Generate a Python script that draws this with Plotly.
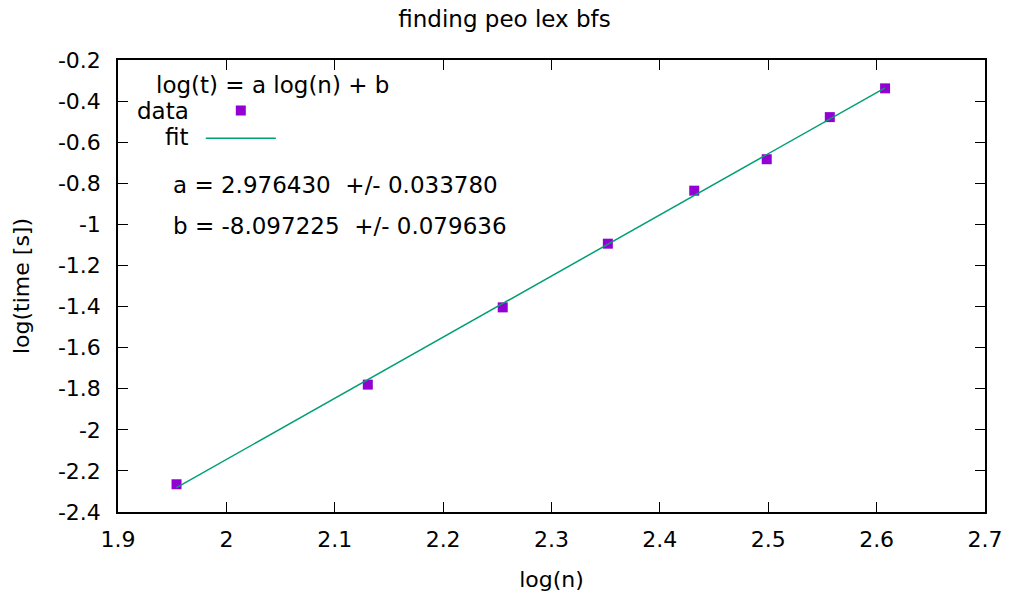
import plotly.graph_objects as go

title = "finding peo lex bfs"
log_n = [1.954, 2.1305, 2.255, 2.352, 2.4317, 2.4986, 2.5568, 2.6078]
log_t = [-2.265, -1.780, -1.404, -1.094, -0.836, -0.683, -0.478, -0.338]
fit_a = 2.976430
fit_a_err = 0.033780
fit_b = -8.097225
fit_b_err = 0.079636
x_ticks = [1.9, 2.0, 2.1, 2.2, 2.3, 2.4, 2.5, 2.6, 2.7]
x_tick_labels = ["1.9", "2", "2.1", "2.2", "2.3", "2.4", "2.5", "2.6", "2.7"]
y_ticks = [-0.2, -0.4, -0.6, -0.8, -1.0, -1.2, -1.4, -1.6, -1.8, -2.0, -2.2, -2.4]
y_tick_labels = ["-0.2", "-0.4", "-0.6", "-0.8", "-1", "-1.2", "-1.4", "-1.6", "-1.8", "-2", "-2.2", "-2.4"]

FONT = "DejaVu Sans"
FS = 23
TFS = 22

L, R, T, B = 118, 24, 60, 81
PW, PH = 1009 - L - R, 593 - T - B

fit_x = [min(log_n), max(log_n)]
fit_y = [fit_a * v + fit_b for v in fit_x]

fig = go.Figure()
fig.add_trace(go.Scatter(
    x=log_n, y=log_t, mode="markers", name="",
    marker=dict(symbol="square", size=10, color="#9400D3"),
))
fig.add_trace(go.Scatter(
    x=fit_x, y=fit_y, mode="lines", name="",
    line=dict(color="#009E73", width=1.5),
))

axis_common = dict(
    ticks="inside", ticklen=10, tickcolor="black", tickwidth=1,
    showline=True, linecolor="black", linewidth=1.5, mirror="allticks",
    showgrid=False, zeroline=False, automargin=False,
    tickfont=dict(family=FONT, size=TFS, color="black"),
)

fig.update_layout(
    width=1009, height=593,
    margin=dict(l=L, r=R, t=T, b=B, autoexpand=False),
    paper_bgcolor="white", plot_bgcolor="white",
    font=dict(family=FONT, size=FS, color="black"),
    title=dict(text=title, x=0.5, xanchor="center", y=1 - 19 / 593, yanchor="middle",
               font=dict(family=FONT, size=FS)),
    showlegend=True,
    legend=dict(x=0.0955, y=0.93, xanchor="left", yanchor="top",
                bgcolor="rgba(0,0,0,0)", itemwidth=70, tracegroupgap=0,
                font=dict(size=19)),
    xaxis=dict(range=[1.9, 2.7], tickvals=x_ticks, ticktext=x_tick_labels,
               ticklabelstandoff=7,
               title=dict(text="log(n)", standoff=20, font=dict(family=FONT, size=TFS)),
               **axis_common),
    yaxis=dict(range=[-2.4, -0.2], tickvals=y_ticks, ticktext=y_tick_labels,
               ticklabelstandoff=11,
               title=dict(text="log(time [s])", standoff=22, font=dict(family=FONT, size=TFS)),
               **axis_common),
)

annots = [
    dict(text="log(t) = a log(n) + b", x=154, y=85, xanchor="left"),
    dict(text="data", x=191, y=111, xanchor="right"),
    dict(text="fit", x=191, y=137, xanchor="right"),
    dict(text="a = %f  +/- %f" % (fit_a, fit_a_err), x=171, y=185, xanchor="left"),
    dict(text="b = %f  +/- %f" % (fit_b, fit_b_err), x=171, y=226, xanchor="left"),
]
for a in annots:
    fig.add_annotation(
        text=a["text"].replace("  ", "&nbsp; "),
        xref="paper", yref="paper",
        x=(a["x"] - L) / PW, y=1 - (a["y"] - T) / PH,
        xanchor=a["xanchor"], yanchor="middle", showarrow=False,
        font=dict(family=FONT, size=FS),
    )

fig.write_html("out.html")
